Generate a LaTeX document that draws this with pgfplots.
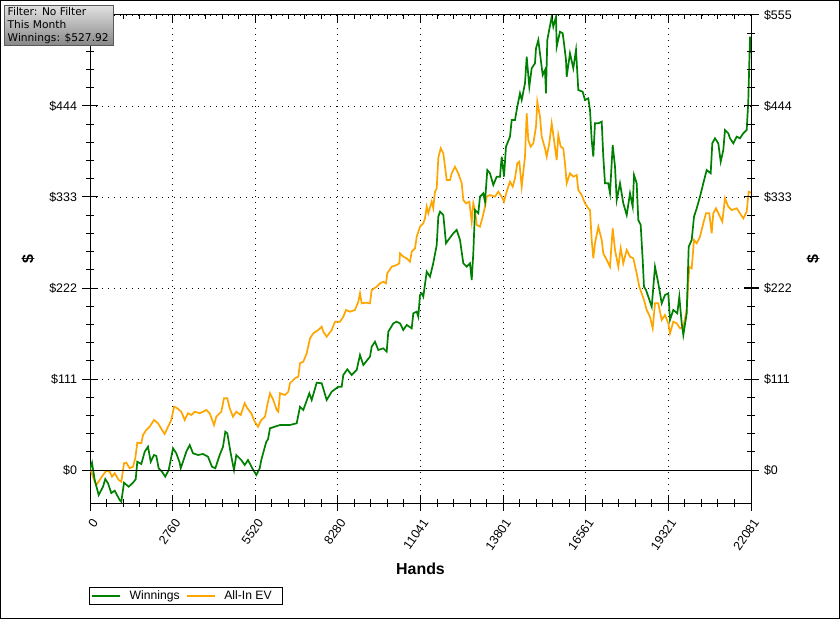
\documentclass[border=0pt]{standalone}
\usepackage{fontspec}
\setmainfont{Liberation Sans}
\newfontfamily\boxfont{DejaVu Sans}
\usepackage{pgfplots}
\pgfplotsset{compat=1.18}
\usepackage{pgfplotstable}

\definecolor{wgreen}{RGB}{0,128,0}
\definecolor{evorange}{RGB}{255,165,0}

\pgfplotstableread{
x y
0 0
23 4.0
67 8.9
157 -12.2
291 -30.5
434 -20.4
511 -11.0
601 -16.2
712 -28.1
825 -25.2
992 -36.6
1046 -38.7
1136 -15.5
1293 -20.4
1436 -15.5
1527 -11.3
1580 10.1
1714 7.3
1827 22.3
1937 28.4
2028 10.1
2138 18.3
2215 17.1
2295 2.1
2405 -2.1
2515 -8.2
2629 0.0
2773 26.5
2883 20.4
2996 8.9
3030 2.1
3107 10.1
3217 22.3
3331 30.5
3441 20.4
3608 18.3
3775 19.5
3942 16.2
4075 4.0
4186 2.1
4333 18.3
4443 28.4
4520 46.7
4587 44.8
4700 20.4
4810 0.0
4887 18.3
5054 12.2
5168 6.1
5278 12.2
5422 2.1
5555 -6.1
5669 2.1
5722 12.2
5889 34.5
5946 37.4
6013 50.9
6347 54.9
6681 54.9
6905 57.0
7015 77.2
7125 73.2
7326 93.6
7406 85.4
7573 106.5
7740 105.8
7907 85.4
8074 95.5
8294 101.6
8408 101.6
8462 115.9
8595 122.8
8742 115.9
8909 122.0
9019 140.3
9130 128.1
9353 138.2
9410 150.4
9520 156.5
9631 146.4
9798 148.4
9911 144.3
9965 168.7
10132 178.9
10245 180.9
10356 178.9
10466 170.8
10580 176.9
10747 172.8
10800 191.1
10914 193.1
10967 187.0
11024 213.5
11080 215.5
11134 211.4
11248 241.9
11358 235.8
11468 252.5
11582 274.5
11635 309.0
11692 315.1
11803 311.0
11892 276.5
11969 280.6
12136 288.7
12250 292.8
12360 280.6
12470 252.1
12584 248.0
12694 252.1
12751 231.8
12804 264.3
12861 317.1
12971 313.1
13028 333.4
13138 337.5
13195 327.3
13272 365.9
13362 361.9
13472 347.6
13586 357.8
13696 357.8
13753 382.2
13830 357.8
13896 394.4
14030 406.6
14087 426.9
14197 426.9
14274 443.2
14364 459.5
14421 451.3
14531 471.7
14588 504.1
14675 467.5
14755 490.0
14865 496.1
14899 514.4
14976 524.5
15032 508.3
15122 481.8
15199 487.9
15232 459.5
15276 524.5
15423 552.9
15477 540.7
15567 552.9
15590 516.3
15700 534.6
15790 532.7
15834 520.5
15901 500.1
15924 479.7
16034 508.3
16145 490.0
16235 512.3
16312 463.5
16458 461.4
16535 451.3
16646 453.3
16703 439.1
16759 402.5
16813 382.2
16869 422.9
16980 422.9
17094 424.9
17147 382.2
17204 349.7
17314 349.7
17371 337.5
17461 396.4
17538 370.0
17595 329.3
17705 349.7
17815 325.3
17929 311.0
18039 337.5
18129 321.2
18173 359.8
18262 349.7
18316 305.0
18396 298.9
18463 256.2
18506 223.6
18573 219.6
18650 211.4
18764 199.2
18874 248.0
18984 227.7
19098 203.3
19208 213.5
19318 215.5
19375 183.0
19485 195.2
19619 191.1
19686 211.4
19766 178.9
19820 164.7
19933 191.1
20000 272.4
20100 280.6
20177 309.0
20267 319.2
20377 333.4
20487 349.7
20601 365.9
20734 361.9
20788 398.5
20878 404.6
20988 398.5
21069 376.1
21156 390.3
21212 414.7
21322 410.7
21379 404.6
21489 398.5
21603 406.6
21713 404.6
21823 410.7
21937 414.7
21990 449.3
22047 528.5
22064 508.6
22081 527.9
}\winnings

\pgfplotstableread{
x y
0 0
23 0.0
100 -8.2
210 -18.3
324 -12.2
434 -6.1
545 -0.9
658 -2.1
735 -8.2
825 -4.0
959 -12.2
1046 -14.3
1136 8.2
1213 8.9
1326 2.1
1436 4.0
1513 14.3
1580 33.3
1714 32.6
1771 42.7
1881 48.8
1994 52.8
2138 61.0
2272 57.0
2405 48.8
2495 43.9
2606 52.8
2716 61.0
2806 77.2
2916 75.3
3050 71.1
3163 61.0
3274 69.2
3384 67.1
3498 71.1
3665 69.2
3775 71.1
3885 73.2
3999 69.2
4142 54.9
4219 65.0
4386 71.1
4476 87.5
4587 87.5
4667 75.3
4777 65.0
4887 71.1
5034 67.1
5168 81.4
5255 75.3
5388 69.2
5502 58.9
5612 52.8
5722 61.0
5846 65.0
5923 79.3
6013 93.6
6123 85.4
6237 73.2
6290 71.1
6347 93.6
6514 91.5
6624 95.5
6681 105.8
6848 111.9
6958 113.8
7015 130.2
7125 132.1
7239 142.3
7349 160.6
7459 166.7
7626 170.8
7740 174.8
7793 168.7
7907 162.6
8074 170.8
8184 180.9
8351 180.9
8462 187.0
8552 195.2
8685 193.1
8852 195.2
8963 205.3
9019 215.5
9076 203.3
9220 204.1
9353 203.3
9410 219.6
9577 223.6
9687 227.7
9798 229.7
9888 227.7
9931 239.9
10078 248.0
10245 250.1
10332 252.1
10356 264.3
10466 260.2
10580 258.2
10690 254.1
10747 266.3
10857 270.4
10914 284.6
11024 296.8
11134 300.9
11191 307.0
11248 321.2
11301 313.1
11414 327.3
11465 319.6
11525 339.5
11582 343.6
11635 380.6
11716 392.4
11803 386.3
11859 370.0
11916 353.7
12026 353.7
12082 361.9
12193 370.0
12303 361.9
12417 349.7
12470 329.3
12561 325.3
12671 327.3
12751 302.9
12804 325.3
12861 317.1
12918 298.9
13028 296.8
13118 309.0
13195 321.2
13252 333.4
13362 335.4
13529 333.4
13639 339.5
13753 333.4
13830 327.3
13919 339.5
14030 351.7
14120 345.6
14197 355.8
14274 374.1
14341 376.1
14421 345.6
14531 382.2
14588 435.1
14641 402.5
14722 394.4
14809 398.5
14899 418.8
14942 449.3
15032 431.0
15089 406.6
15199 392.4
15256 382.2
15343 398.5
15423 422.9
15500 402.5
15590 378.1
15643 408.6
15724 394.4
15810 392.4
15867 374.1
15924 349.7
16034 361.9
16145 357.8
16259 359.8
16312 341.5
16425 335.4
16535 325.3
16646 319.2
16703 317.1
16759 280.6
16813 258.2
16869 276.5
16980 296.8
17094 280.6
17147 264.3
17261 256.2
17371 248.0
17461 294.8
17538 268.4
17648 248.0
17729 270.4
17815 252.1
17929 268.4
18039 260.2
18149 258.2
18262 239.9
18349 223.6
18429 215.5
18506 207.4
18596 195.2
18707 187.0
18797 172.8
18874 203.3
18984 203.3
19098 183.0
19208 189.1
19318 178.9
19375 166.7
19485 180.9
19599 178.9
19710 172.8
19820 174.8
19876 185.0
19933 195.2
20020 248.0
20100 246.0
20177 280.6
20267 276.5
20377 284.6
20487 300.9
20577 313.1
20687 313.1
20768 288.7
20821 313.1
20911 319.2
21045 309.0
21122 302.9
21212 331.4
21322 321.2
21436 317.1
21603 319.2
21713 313.1
21823 307.0
21937 315.1
22004 339.5
22081 338.3
}\allin

\pgfplotsset{
  common/.style={
    scale only axis, width=661bp, height=488bp,
    at={(90bp,116bp)}, anchor=south west,
    xmin=0, xmax=22081, ymin=-40.25, ymax=555,
    scaled x ticks=false, scaled y ticks=false,
    ytick={0,111,222,333,444,555},
    yticklabels={\$0,\$111,\$222,\$333,\$444,\$555},
    xtick={0,2760.125,5520.25,8280.375,11040.5,13800.625,16560.75,19320.875,22081},
    minor y tick num=4, minor x tick num=4,
    tick align=center,
    major tick length=15bp, minor tick length=8bp,
    every tick/.style={black, line width=1bp},
    axis line style={black, line width=1bp},
    ticklabel style={font=\fontsize{12.5}{14}\selectfont},
    /pgf/number format/assume math mode=true,
    label style={font=\fontsize{16}{18}\selectfont\bfseries},
    ylabel={\$},
  }
}

\begin{document}
\begin{tikzpicture}
\useasboundingbox (0,0) rectangle (840bp,619bp);
\fill[white] (0,0) rectangle (840bp,619bp);
\begin{axis}[common,
  xtick pos=bottom,
  yticklabels={\$0,\$111,\$222,\$333,\$444,{}},
  xticklabels={0,2760,5520,8280,11041,13801,16561,19321,22081},
  x tick label style={xshift=7bp, yshift=-7bp, rotate=55, anchor=east},
  y tick label style={xshift=-2bp},
  xlabel={Hands},
  xlabel style={at={(axis description cs:0.5,-0.135)}, anchor=center},
  ylabel style={at={(axis description cs:-0.0938,0.5)}, anchor=center},
  grid=major,
  grid style={black, line width=0.8bp, dash pattern=on 1bp off 5bp},
  legend style={at={(axis description cs:-0.0015,-0.172)}, anchor=north west,
    legend columns=-1, draw=black, line width=1bp,
    font=\fontsize{12.2}{14}\selectfont, inner sep=1.5bp,
    /tikz/every even column/.append style={column sep=4bp},
    /tikz/every odd column/.append style={column sep=7bp}},
  legend image code/.code={\draw[#1] (0bp,0bp) -- (28bp,0bp);},
]
\addplot[evorange, line width=1.7bp, forget plot] table {\allin};
\addplot[wgreen, line width=1.7bp] table {\winnings};
\addlegendentry{Winnings}
\addlegendimage{evorange, line width=1.7bp}
\addlegendentry{All-In EV\kern7bp\null}
\draw[black, line width=1bp] (axis cs:0,0) -- (axis cs:22081,0);
\end{axis}
\begin{axis}[common,
  axis y line*=right, axis x line=none,
  y tick label style={xshift=2bp},
  ylabel style={at={(axis description cs:1.0938,0.5)}, anchor=center},
]
\addplot[draw=none] coordinates {(0,0)};
\end{axis}
\begin{axis}[common,
  axis x line*=top, axis y line=none,
  xticklabels={}, ylabel={},
  tick align=inside, major tick length=7.5bp, minor tick length=4bp,
]
\addplot[draw=none] coordinates {(0,0)};
\end{axis}
\node[draw={rgb,255:red,90;green,90;blue,90}, line width=1bp,
  top color={rgb,255:red,225;green,225;blue,225},
  bottom color={rgb,255:red,135;green,135;blue,135},
  minimum width=109bp, minimum height=40bp, anchor=north west, inner sep=0pt]
  at (4bp,614bp) {};
\node[anchor=north west, align=left, inner sep=0pt,
  font=\boxfont\fontsize{10.7}{13}\selectfont] at (7.5bp,611.5bp)
  {Filter: No Filter\\This Month\\Winnings: \$527.92};
\draw[black, line width=1bp] (0.5bp,0.5bp) rectangle (839.5bp,618.5bp);
\end{tikzpicture}
\end{document}
